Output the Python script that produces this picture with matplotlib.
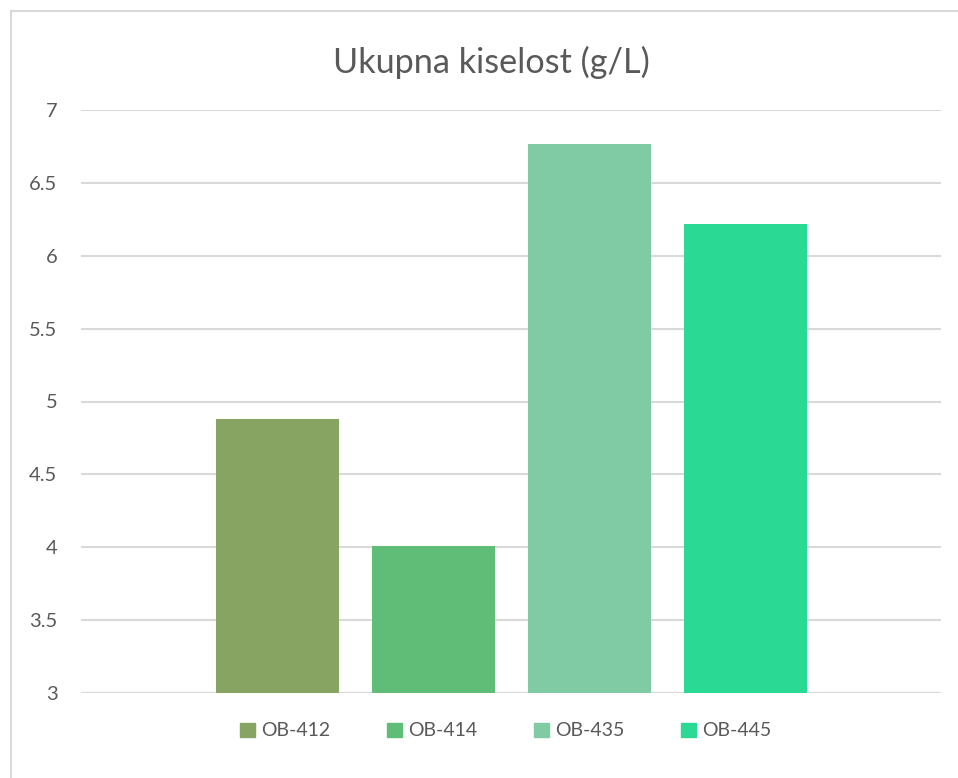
import matplotlib
matplotlib.use("Agg")
import matplotlib.pyplot as plt
from matplotlib.patches import Rectangle

series = ["OB-412", "OB-414", "OB-435", "OB-445"]
values = [4.88, 4.01, 6.77, 6.22]
colors = ["#87A463", "#60BD78", "#80CBA4", "#29D994"]
yticks = [3, 3.5, 4, 4.5, 5, 5.5, 6, 6.5, 7]
ytick_labels = ["3", "3.5", "4", "4.5", "5", "5.5", "6", "6.5", "7"]
title = "Ukupna kiselost (g/L)"

plt.rcParams['font.family'] = ['Lato', 'DejaVu Sans']
W, H = 958, 778
fig = plt.figure(figsize=(W / 100, H / 100), dpi=100)

# outer chart border (partially cropped)
fig.patches.append(Rectangle((11 / W, -0.1), 2, 1 - 11 / H + 0.1, transform=fig.transFigure,
                             fill=False, edgecolor="#D9D9D9", linewidth=1.5, zorder=0))

ax = fig.add_axes([81 / W, 1 - 693 / H, (941 - 81) / W, (693 - 110) / H])
x = list(range(len(series)))
width = 123 / 156
bars = ax.bar(x, [v - 3 for v in values], bottom=3, width=width, color=colors, zorder=3)
ax.set_xlim((81 - 277.5) / 156, (941 - 277.5) / 156)
ax.set_ylim(3, 7)
ax.set_yticks(yticks)
ax.set_yticklabels(ytick_labels)
ax.set_xticks([])
ax.grid(axis="y", color="#D9D9D9", linewidth=1.5, zorder=0)
for s in ax.spines.values():
    s.set_visible(False)
ax.axhline(3, color="#D9D9D9", linewidth=1.5, zorder=1)
ax.tick_params(axis="y", length=0, pad=17, labelsize=14.5, labelcolor="#595959")

fig.text(491 / W, 1 - 62 / H, title, ha="center", va="center", fontsize=24.7, color="#595959")

handles = [Rectangle((0, 0), 1, 1, color=c) for c in colors]
leg = fig.legend(handles, series, loc="center", bbox_to_anchor=(506 / W, 1 - 731 / H), ncol=4,
                 frameon=False, fontsize=14, handlelength=0.75, handleheight=0.75,
                 handletextpad=0.35, columnspacing=2.9, labelcolor="#595959")

fig.savefig("out.png", dpi=100, facecolor="white")
